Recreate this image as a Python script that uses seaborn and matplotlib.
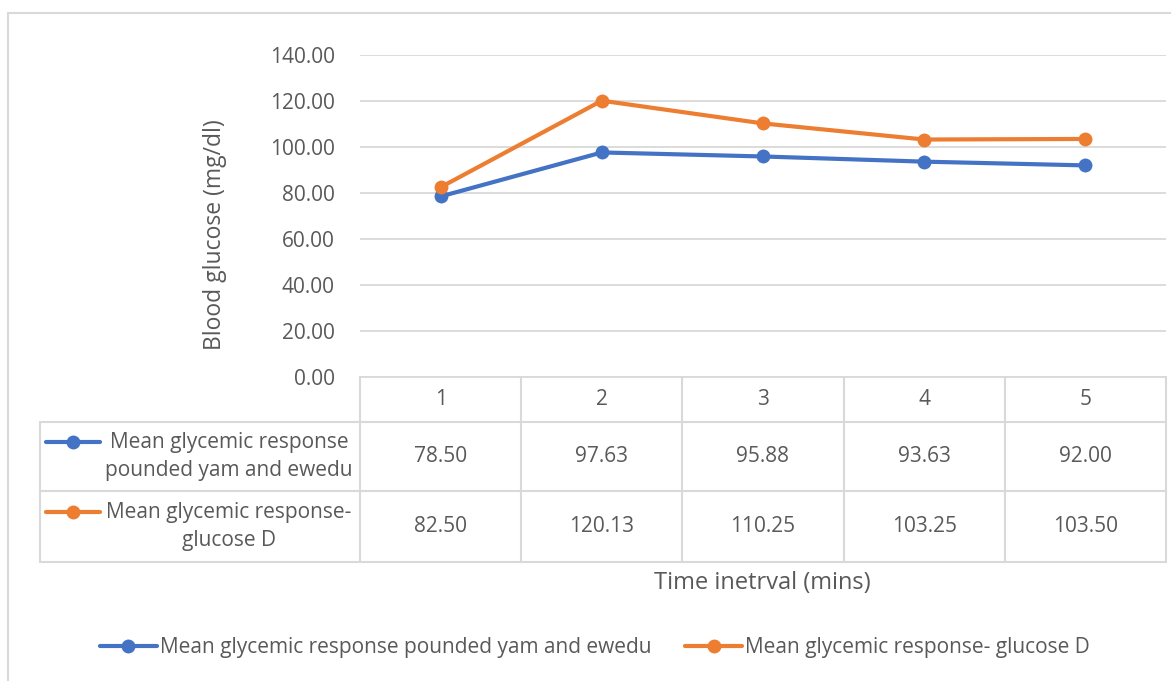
import matplotlib
matplotlib.use("Agg")
import matplotlib.pyplot as plt
from matplotlib.lines import Line2D
from matplotlib.patches import Rectangle
import numpy as np
import pandas as pd
import seaborn as sns

# ---- data ----
intervals = [1, 2, 3, 4, 5]
yam_ewedu = [78.50, 97.63, 95.88, 93.63, 92.00]
glucose_d = [82.50, 120.13, 110.25, 103.25, 103.50]
series_names = ["Mean glycemic response pounded yam and ewedu",
                "Mean glycemic response- glucose D"]
row_labels = ["Mean glycemic response\npounded yam and ewedu",
              "Mean glycemic response-\nglucose D"]
y_ticks = [0, 20, 40, 60, 80, 100, 120, 140]
x_title = "Time inetrval (mins)"
y_title = "Blood glucose (mg/dl)"

BLUE = "#4472C4"
ORANGE = "#ED7D31"
GRID = "#D9D9D9"
TXT = "#595959"
FS = 15

sns.set_theme(style="white")
plt.rcParams["font.family"] = ["Open Sans", "DejaVu Sans"]

W, H = 1171, 681
fig = plt.figure(figsize=(W / 100, H / 100), dpi=100)
fig.patch.set_facecolor("white")


def fx(px):
    return px / W


def fy(py):
    return 1 - py / H


# outer chart frame
fig.patches.append(Rectangle((fx(7.5), fy(700)), fx(1200), fy(12.5) - fy(700),
                             transform=fig.transFigure, fill=False,
                             edgecolor=GRID, linewidth=1.5))

# plot area
left, right, top, bottom = 360, 1166, 55, 377
ax = fig.add_axes([fx(left), fy(bottom), fx(right) - fx(left), fy(top) - fy(bottom)])

df = pd.DataFrame({
    "interval": intervals * 2,
    "glucose": yam_ewedu + glucose_d,
    "series": [series_names[0]] * 5 + [series_names[1]] * 5,
})
sns.lineplot(data=df, x="interval", y="glucose", hue="series",
             palette=[BLUE, ORANGE], marker="o", markersize=10,
             markeredgewidth=0, linewidth=3, legend=False, ax=ax, zorder=3)

ax.set_xlim(0.5, 5.5)
ax.set_ylim(0, 140)
ax.set_yticks(y_ticks)
ax.set_yticklabels([f"{v:.2f}" for v in y_ticks], color=TXT, fontsize=FS)
ax.set_xticks([])
ax.set_xlabel("")
ax.set_ylabel("")
ax.tick_params(axis="y", length=0, pad=18)
ax.grid(axis="y", color=GRID, linewidth=1.3)
for s in ["top", "right", "left"]:
    ax.spines[s].set_visible(False)
ax.spines["bottom"].set_color(GRID)
ax.spines["bottom"].set_linewidth(1.3)

fig.text(fx(215), fy(235), y_title, rotation=90, ha="center", va="center",
         color=TXT, fontsize=16.5)

# ---- data table under the plot ----
col_edges = np.linspace(left, right, len(intervals) + 1)
row_edges = [377, 422, 491, 562]
label_left = 40
lkw = dict(transform=fig.transFigure, color=GRID, linewidth=1.5)

for xe in col_edges:
    fig.add_artist(Line2D([fx(xe), fx(xe)], [fy(row_edges[0]), fy(row_edges[-1])], **lkw))
fig.add_artist(Line2D([fx(label_left)] * 2, [fy(row_edges[1]), fy(row_edges[-1])], **lkw))
for ye in row_edges[1:]:
    fig.add_artist(Line2D([fx(label_left), fx(right)], [fy(ye), fy(ye)], **lkw))

centers = (col_edges[:-1] + col_edges[1:]) / 2
for xc, iv in zip(centers, intervals):
    fig.text(fx(xc), fy((row_edges[0] + row_edges[1]) / 2), str(iv),
             ha="center", va="center", color=TXT, fontsize=FS)

for r, (vals, col, lab) in enumerate(zip([yam_ewedu, glucose_d], [BLUE, ORANGE], row_labels)):
    ymid = (row_edges[r + 1] + row_edges[r + 2]) / 2
    for xc, v in zip(centers, vals):
        fig.text(fx(xc), fy(ymid), f"{v:.2f}", ha="center", va="center",
                 color=TXT, fontsize=FS)
    fig.text(fx(229), fy(ymid), lab, ha="center", va="center", color=TXT,
             fontsize=FS, multialignment="center", linespacing=1.45)
    ykey = ymid - 15
    fig.add_artist(Line2D([fx(46), fx(100)], [fy(ykey)] * 2, transform=fig.transFigure,
                          color=col, linewidth=3))
    fig.add_artist(Line2D([fx(73)], [fy(ykey)], transform=fig.transFigure,
                          color=col, marker="o", markersize=10, markeredgewidth=0))

fig.text(fx(762), fy(583), x_title, ha="center", va="center", color=TXT, fontsize=17)

# ---- legend ----
handles = [Line2D([], [], color=c, linewidth=3, marker="o", markersize=10,
                  markeredgewidth=0) for c in (BLUE, ORANGE)]
leg = fig.legend(handles, series_names, loc="center", ncol=2, frameon=False,
                 bbox_to_anchor=(fx(595), fy(648)), fontsize=FS,
                 handlelength=2.75, handletextpad=0.15, columnspacing=1.6)
for t in leg.get_texts():
    t.set_color(TXT)

fig.savefig("out.png", dpi=100)
